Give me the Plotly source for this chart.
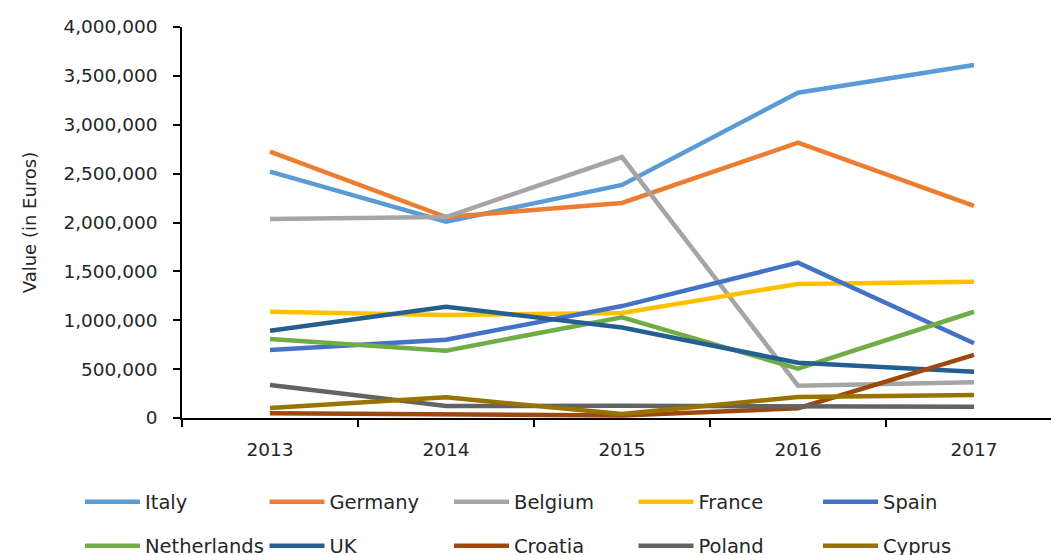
import plotly.graph_objects as go

years = ["2013", "2014", "2015", "2016", "2017"]
countries = ["Italy", "Germany", "Belgium", "France", "Spain",
             "Netherlands", "UK", "Croatia", "Poland", "Cyprus"]
italy = [2520000, 2008000, 2384000, 3328000, 3611000]
germany = [2724000, 2056000, 2200000, 2816000, 2169000]
belgium = [2036000, 2056000, 2670000, 330000, 365000]
france = [1087000, 1054000, 1075000, 1371000, 1394000]
spain = [696000, 800000, 1145000, 1589000, 764000]
netherlands = [808000, 689000, 1030000, 505000, 1087000]
uk = [893000, 1139000, 925000, 566000, 474000]
croatia = [48000, 40000, 25000, 100000, 645000]
poland = [338000, 123000, 125000, 116000, 116000]
cyprus = [102000, 212000, 40000, 215000, 235000]
series = [italy, germany, belgium, france, spain,
          netherlands, uk, croatia, poland, cyprus]
colors = ["#5B9BD5", "#ED7D31", "#A5A5A5", "#FFC000", "#4472C4",
          "#70AD47", "#255E91", "#9E480E", "#636363", "#997300"]

FONT = "DejaVu Sans"
TXT = "#262626"

fig = go.Figure()
for i, (name, vals, col) in enumerate(zip(countries, series, colors)):
    fig.add_trace(go.Scatter(
        x=years, y=vals, name=name, mode="lines",
        line=dict(color=col, width=4.5),
        legend="legend" if i < 5 else "legend2",
    ))

W, H = 1051, 555
L, T, B, R = 182, 27, 137, 0
pw = W - L - R
step = 176.0
xmax = -0.5 + pw / step
ph = H - T - B

leg_x = (80 - L) / pw
row1 = (418 - 502) / ph
row2 = (418 - 546) / ph

legend_common = dict(orientation="h", xanchor="left", yanchor="middle",
                     entrywidth=114.5, entrywidthmode="pixels", itemwidth=55,
                     font=dict(family=FONT, size=19.5, color=TXT),
                     bgcolor="rgba(0,0,0,0)", borderwidth=0)

fig.update_layout(
    width=W, height=H,
    margin=dict(l=L, r=R, t=T, b=B, pad=0, autoexpand=False),
    paper_bgcolor="white", plot_bgcolor="white",
    font=dict(family=FONT, size=18, color=TXT),
    xaxis=dict(
        type="category", range=[-0.5, xmax],
        showline=True, linecolor="black", linewidth=1.5,
        ticks="outside", tickson="boundaries", ticklen=7,
        tickcolor="black", tickwidth=1.5,
        showgrid=False, zeroline=False,
        tickfont=dict(family=FONT, size=18.5, color=TXT),
        ticklabelstandoff=14,
    ),
    yaxis=dict(
        range=[0, 4000000], dtick=500000, tickformat=",d",
        showline=True, linecolor="black", linewidth=1.5,
        ticks="outside", ticklen=7, tickcolor="black", tickwidth=1.5,
        showgrid=False, zeroline=False,
        title=dict(text="Value (in Euros)", font=dict(family=FONT, size=18, color=TXT),
                   standoff=22),
        tickfont=dict(family=FONT, size=18.5, color=TXT),
        ticklabelstandoff=12,
    ),
    legend=dict(x=leg_x, y=row1, **legend_common),
    legend2=dict(x=leg_x, y=row2, **legend_common),
)

fig.write_html("out.html", config={"displayModeBar": False},
               post_script="document.body.style.margin='0';")
